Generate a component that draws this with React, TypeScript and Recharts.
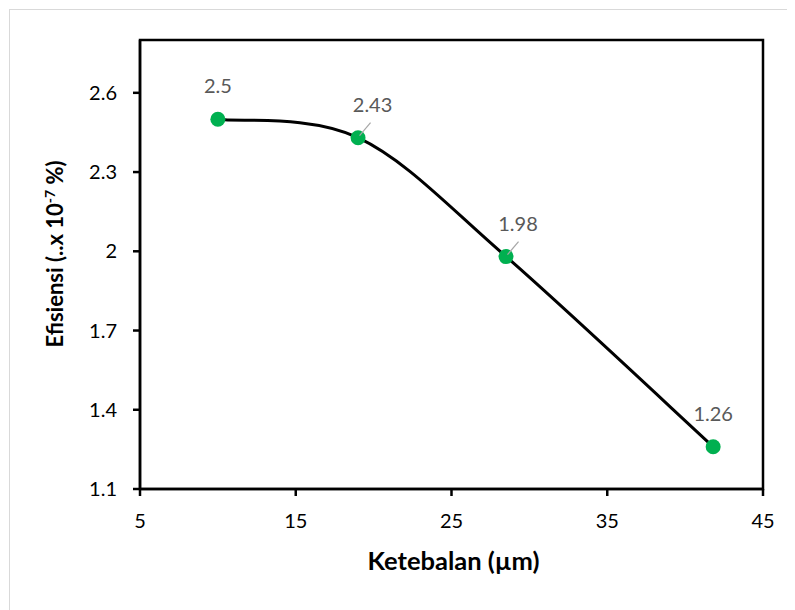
import {
  LineChart,
  Line,
  XAxis,
  YAxis,
  ReferenceArea,
} from "recharts";

const thickness = [10, 19, 28.5, 41.8];
const efficiency = [2.5, 2.43, 1.98, 1.26];
const xTicks = [5, 15, 25, 35, 45];
const yTicks = [1.1, 1.4, 1.7, 2, 2.3, 2.6];

const data = thickness.map((t, i) => ({ x: t, y: efficiency[i] }));

// label placement relative to each point (dx of text centre, leader line or not)
const LABEL_DX = [0, 14.5, 12, 0];
const LABEL_LEADER = [false, true, true, false];

const FONT = "Lato, 'Open Sans', sans-serif";
const POINT_COLOR = "#00b050";
const LABEL_COLOR = "#595959";

// Excel-style smoothed line (Catmull-Rom type bezier)
function excelSmooth(context: any) {
  let pts: [number, number][] = [];
  return {
    areaStart() {},
    areaEnd() {},
    lineStart() {
      pts = [];
    },
    lineEnd() {
      if (!pts.length) return;
      context.moveTo(pts[0][0], pts[0][1]);
      for (let i = 0; i < pts.length - 1; i++) {
        const p0 = pts[Math.max(i - 1, 0)];
        const p1 = pts[i];
        const p2 = pts[i + 1];
        const p3 = pts[Math.min(i + 2, pts.length - 1)];
        context.bezierCurveTo(
          p1[0] + (p2[0] - p0[0]) / 6,
          p1[1] + (p2[1] - p0[1]) / 6,
          p2[0] - (p3[0] - p1[0]) / 6,
          p2[1] - (p3[1] - p1[1]) / 6,
          p2[0],
          p2[1]
        );
      }
    },
    point(x: number, y: number) {
      pts.push([x, y]);
    },
  };
}

function XTick(props: any) {
  const { x, y, payload } = props;
  return (
    <text
      x={x}
      y={y + 15}
      textAnchor="middle"
      fill="#000"
      fontFamily={FONT}
      fontSize={20}
    >
      {payload.value}
    </text>
  );
}

function YTick(props: any) {
  const { x, y, payload } = props;
  return (
    <text
      x={x + 0}
      y={y + 7}
      textAnchor="end"
      fill="#000"
      fontFamily={FONT}
      fontSize={20}
    >
      {payload.value}
    </text>
  );
}

function DataLabel(props: any) {
  const { x, y, value, index } = props;
  const dx = LABEL_DX[index] ?? 0;
  return (
    <g>
      {LABEL_LEADER[index] && (
        <line
          x1={x + 1.5}
          y1={y - 2}
          x2={x + 12.5}
          y2={y - 15}
          stroke="#a6a6a6"
          strokeWidth={1.2}
        />
      )}
      <text
        x={x + dx}
        y={y - 26}
        textAnchor="middle"
        fill={LABEL_COLOR}
        fontFamily={FONT}
        fontSize={20}
      >
        {value}
      </text>
    </g>
  );
}

function YTitle(props: any) {
  const { viewBox } = props;
  const cx = viewBox.x + 53;
  const cy = 244;
  return (
    <text
      x={cx}
      y={cy}
      transform={`rotate(-90, ${cx}, ${cy})`}
      textAnchor="middle"
      fontFamily={FONT}
      fontWeight="bold"
      fontSize={22}
      fill="#000"
    >
      Efisiensi (..x 10
      <tspan dy={-8} fontSize={14}>
        -7
      </tspan>
      <tspan dy={8}> %)</tspan>
    </text>
  );
}

function XTitle(props: any) {
  const { viewBox } = props;
  return (
    <text
      x={viewBox.x + viewBox.width / 2 + 2}
      y={viewBox.y + 81}
      textAnchor="middle"
      fontFamily={FONT}
      fontWeight="bold"
      fontSize={25.5}
      fill="#000"
    >
      Ketebalan (µm)
    </text>
  );
}

export default function App() {
  return (
    <div
      style={{
        marginLeft: 1,
        marginTop: 1,
        width: 785,
        height: 600,
        borderTop: "1px solid #d9d9d9",
        borderLeft: "1px solid #d9d9d9",
        background: "#fff",
      }}
    >
      <LineChart
        width={785}
        height={600}
        data={data}
        margin={{ top: 30, right: 32, left: 0, bottom: 31 }}
      >
        <ReferenceArea
          x1={5}
          x2={45}
          y1={1.1}
          y2={2.8}
          fill="none"
          stroke="#000"
          strokeWidth={2.5}
          ifOverflow="visible"
        />
        <XAxis
          type="number"
          dataKey="x"
          domain={[5, 45]}
          ticks={xTicks}
          interval={0}
          height={90}
          tickSize={7}
          tickMargin={17}
          axisLine={{ stroke: "#000", strokeWidth: 2.5 }}
          tickLine={{ stroke: "#000", strokeWidth: 2.5 }}
          tick={<XTick />}
          label={<XTitle />}
        />
        <YAxis
          type="number"
          dataKey="y"
          domain={[1.1, 2.8]}
          ticks={yTicks}
          interval={0}
          width={130}
          tickSize={7}
          tickMargin={16}
          axisLine={{ stroke: "#000", strokeWidth: 2.5 }}
          tickLine={{ stroke: "#000", strokeWidth: 2.5 }}
          tick={<YTick />}
          label={<YTitle />}
        />
        <Line
          dataKey="y"
          type={excelSmooth as any}
          stroke="#000"
          strokeWidth={3}
          dot={{ r: 7.5, fill: POINT_COLOR, stroke: "none" }}
          activeDot={false}
          label={<DataLabel />}
          isAnimationActive={false}
        />
      </LineChart>
    </div>
  );
}
